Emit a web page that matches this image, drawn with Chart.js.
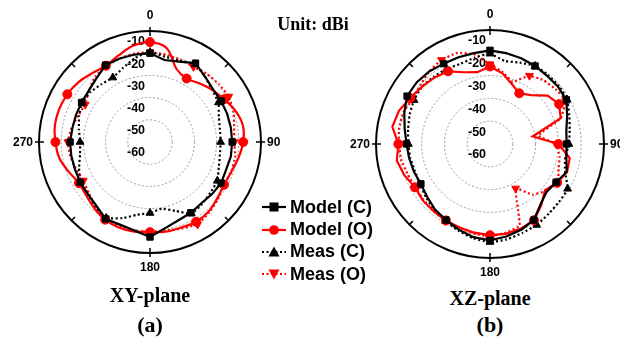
<!DOCTYPE html>
<html>
<head>
<meta charset="utf-8">
<script src="https://cdn.jsdelivr.net/npm/chart.js@4/dist/chart.umd.min.js"></script>
<style>
  html, body { margin: 0; padding: 0; background: #fff; }
  body { width: 620px; height: 343px; position: relative; overflow: hidden; }
  .plot { position: absolute; top: 0; width: 300px; height: 285px; }
  #wrapA { left: 0; }
  #wrapB { left: 320px; }
  .serif { position: absolute; font-family: "Liberation Serif", "Times New Roman", serif; font-weight: bold; color: #000; white-space: nowrap; transform: translate(-50%, -50%); }
  #legend { position: absolute; left: 262px; top: 196px; z-index: 5; font-family: "Liberation Sans", Arial, sans-serif; font-weight: bold; font-size: 18px; color: #000; }
  #legend .row { height: 22.4px; display: flex; align-items: center; white-space: nowrap; }
  #legend svg { margin-right: 4px; }
</style>
</head>
<body>
<div class="plot" id="wrapA"><canvas id="xy" width="300" height="285"></canvas></div>
<div class="plot" id="wrapB"><canvas id="xz" width="300" height="285"></canvas></div>

<div class="serif" style="left:313px; top:24px; font-size:18px;">Unit: dBi</div>
<div class="serif" style="left:150px; top:295px; font-size:20px;">XY-plane</div>
<div class="serif" style="left:150px; top:325px; font-size:22px;">(a)</div>
<div class="serif" style="left:490px; top:298px; font-size:20px;">XZ-plane</div>
<div class="serif" style="left:490px; top:325px; font-size:22px;">(b)</div>

<div id="legend">
  <div class="row"><svg width="24" height="14"><line x1="0" y1="7" x2="24" y2="7" stroke="#000" stroke-width="2.2"/><rect x="7.5" y="2.5" width="9" height="9" fill="#000"/></svg><span>Model (C)</span></div>
  <div class="row"><svg width="24" height="14"><line x1="0" y1="7" x2="24" y2="7" stroke="#f00" stroke-width="2.2"/><circle cx="12" cy="7" r="4.8" fill="#f00"/></svg><span>Model (O)</span></div>
  <div class="row"><svg width="24" height="14"><line x1="0" y1="7" x2="24" y2="7" stroke="#000" stroke-width="2.2" stroke-dasharray="2,2.5"/><polygon points="12,1.5 17.5,11.5 6.5,11.5" fill="#000"/></svg><span>Meas (C)</span></div>
  <div class="row"><svg width="24" height="14"><line x1="0" y1="7" x2="24" y2="7" stroke="#f00" stroke-width="2.2" stroke-dasharray="2,2.5"/><polygon points="6.5,2.5 17.5,2.5 12,12.5" fill="#f00"/></svg><span>Meas (O)</span></div>
</div>

<script>
// Azimuth angles in degrees, one sample every 10 degrees (clockwise from top)
const angles = ["0","10","20","30","40","50","60","70","80","90","100","110","120","130","140","150","160","170",
                "180","190","200","210","220","230","240","250","260","270","280","290","300","310","320","330","340","350"];
// Angle labels shown around the outer ring
const angleTickLabels = ["0", "90", "180", "270"];
// Radial gain ticks (dBi)
const radialTicks = [-60, -50, -40, -30, -20, -10];

// XY-plane gain (dBi)
const xyModelC = [-20,-22.5,-21.5,-19,-21.5,-23,-23,-23,-23,-23,-23,-23.5,-23,-23.5,-24,-23.2,-22.5,-20.6,
                  -17.2,-19.5,-20.4,-20,-22.5,-23.5,-23.7,-24,-24,-24,-24.5,-24.5,-24.4,-24,-22.5,-20,-20,-20];
const xyModelO = [-15,-17,-25,-27,-25.5,-23.5,-21.5,-19,-17.5,-18,-19.5,-21,-21.5,-20.5,-19,-18.5,-19,-19,
                  -19.4,-19,-19,-19.6,-21,-22.5,-23,-21,-18.5,-17.4,-16.5,-16.5,-17,-18,-19.5,-20.3,-18.5,-16];
const xyMeasC  = [-19.5,-21,-21,-19.5,-21.5,-23.5,-24.4,-27,-28,-28.2,-28,-27,-25,-24.5,-23.5,-22.8,-27,-29.5,
                  -28,-26.7,-23.5,-20.5,-21.5,-23,-23.7,-26,-28,-28.5,-27.5,-26,-24.7,-25,-26,-26.5,-24.5,-21.5];
const xyMeasO  = [-19.5,-20,-20.5,-20.9,-20,-19.5,-19,-20,-21.5,-22,-21,-21,-21.5,-20,-18.5,-17.1,-18.5,-19.5,
                  -19.5,-19.5,-20,-20,-22,-24,-25.3,-24.5,-23.5,-23,-24,-25.5,-26.3,-24,-21.5,-20.5,-20,-19.5];

// XZ-plane gain (dBi)
const xzModelC = [-18.9,-19.5,-20,-20.5,-21,-21,-21.3,-24,-26,-26.4,-26,-24.2,-26.5,-27.5,-25.5,-21.5,-20,-18.8,
                  -17.7,-18.5,-20,-21.5,-22.5,-24,-25,-24.5,-24,-23.4,-22,-20,-18,-18,-18.5,-19.3,-19.5,-19.5];
const xzModelO = [-26,-28.5,-32,-34.3,-32,-27,-25,-27,-41,-30,-24.5,-24,-26,-28.5,-25,-21.4,-20.5,-20,
                  -20,-20.5,-21,-21.3,-21.5,-21.5,-22,-20,-18.5,-19.8,-16.5,-17.5,-19.6,-21,-22,-23.2,-26.5,-28];
const xzMeasC  = [-20.4,-23,-22,-20.5,-20.5,-20.5,-21,-23,-24.5,-25.4,-26.5,-25,-20.7,-20.5,-20,-19,-18.5,-17.5,
                  -17,-18,-19.5,-21,-22,-23.5,-24.5,-25,-24.5,-24.2,-23.5,-22.5,-21.5,-21,-21.5,-22,-22.5,-21.5];
const xzMeasO  = [-25,-28,-31,-25.4,-23.5,-22.5,-21.7,-27,-38.5,-31,-29,-28,-25.6,-28,-31,-37.5,-22,-20.5,
                  -19.5,-20,-21,-21,-21.5,-22,-22,-21.5,-20.5,-20,-19.5,-19.5,-20.7,-20,-18.5,-17.4,-17.5,-20];

const RED = '#ff0000';
const BLACK = '#000000';
const markerEvery = 3; // one marker every 30 degrees

function markerRadius(ctx) {
  return ctx.dataIndex % markerEvery === 0 ? 4.5 : 0;
}

function series(label, data, color, dotted, style, tension) {
  return {
    label: label,
    data: data,
    borderColor: color,
    backgroundColor: color,
    pointBackgroundColor: color,
    pointBorderColor: color,
    borderWidth: 2.2,
    borderDash: dotted ? [2, 2.5] : [],
    fill: false,
    tension: tension,
    pointStyle: style,
    pointRotation: style === 'triangle' && color === RED ? 180 : 0,
    pointRadius: markerRadius,
    pointHoverRadius: 0,
    pointBorderWidth: 1
  };
}

// Draws the ring tick marks, angle labels and radial gain labels
const polarDecor = {
  id: 'polarDecor',
  beforeDatasetsDraw(chart, args, opts) {
    const s = chart.scales.r;
    const ctx = chart.ctx;
    const cx = s.xCenter, cy = s.yCenter, R = s.drawingArea;
    ctx.save();
    // tick marks on the outer ring
    ctx.strokeStyle = BLACK;
    ctx.lineWidth = 1.5;
    for (let a = 0; a < 360; a += 45) {
      const t = a * Math.PI / 180;
      const major = a % 90 === 0;
      const r0 = R - 5, r1 = major ? R + 4 : R;
      ctx.beginPath();
      ctx.moveTo(cx + r0 * Math.sin(t), cy - r0 * Math.cos(t));
      ctx.lineTo(cx + r1 * Math.sin(t), cy - r1 * Math.cos(t));
      ctx.stroke();
    }
    // angle labels
    ctx.fillStyle = BLACK;
    ctx.font = 'bold 12px "Liberation Sans", Arial, sans-serif';
    angleTickLabels.forEach((txt) => {
      const idx = angles.indexOf(txt);
      const deg = Number(txt);
      if (deg === 0 || deg === 180) {
        const p = s.getPointPosition(idx, R + 15);
        ctx.textAlign = 'center';
        ctx.textBaseline = 'middle';
        ctx.fillText(txt, p.x, p.y);
      } else {
        const p = s.getPointPosition(idx, R + 6);
        ctx.textAlign = deg === 90 ? 'left' : 'right';
        ctx.textBaseline = 'middle';
        ctx.fillText(txt, p.x, p.y + 1);
      }
    });
    // radial gain labels
    ctx.font = 'bold 12.5px "Liberation Sans", Arial, sans-serif';
    ctx.textAlign = 'center';
    ctx.textBaseline = 'middle';
    radialTicks.forEach((v) => {
      const d = s.getDistanceFromCenterForValue(v);
      ctx.fillText(String(v), cx + opts.dx, cy - d + opts.dy);
    });
    ctx.restore();
  }
};

function makeChart(id, data, pad, decor) {
  return new Chart(document.getElementById(id), {
    type: 'radar',
    data: {
      labels: angles,
      datasets: [
        series('Model (C)', data[0], BLACK, false, 'rect', 0),
        series('Model (O)', data[1], RED, false, 'circle', data[4]),
        series('Meas (C)', data[2], BLACK, true, 'triangle', 0.15),
        series('Meas (O)', data[3], RED, true, 'triangle', 0.1)
      ]
    },
    options: {
      responsive: false,
      animation: false,
      layout: { padding: pad },
      plugins: {
        legend: { display: false },
        tooltip: { enabled: false },
        polarDecor: decor
      },
      scales: {
        r: {
          min: radialTicks[0],
          max: radialTicks[radialTicks.length - 1],
          ticks: { stepSize: 10, display: false },
          angleLines: { display: false },
          pointLabels: { display: false },
          grid: {
            circular: true,
            color: (c) => c.index === 0 ? 'rgba(0,0,0,0)' : (c.index === radialTicks.length - 1 ? BLACK : '#9a9a9a'),
            lineWidth: (c) => c.index === radialTicks.length - 1 ? 2 : 1
          },
          border: {
            dash: (c) => c.index === radialTicks.length - 1 ? [] : [2, 2]
          }
        }
      }
    },
    plugins: [polarDecor]
  });
}

makeChart('xy', [xyModelC, xyModelO, xyMeasC, xyMeasO, 0.35],
  { left: 39, top: 31, right: 38, bottom: 31 }, { dx: -14, dy: 11 });
makeChart('xz', [xzModelC, xzModelO, xzMeasC, xzMeasO, 0],
  { left: 56, top: 30, right: 16, bottom: 27 }, { dx: -13, dy: 11 });
</script>
</body>
</html>
